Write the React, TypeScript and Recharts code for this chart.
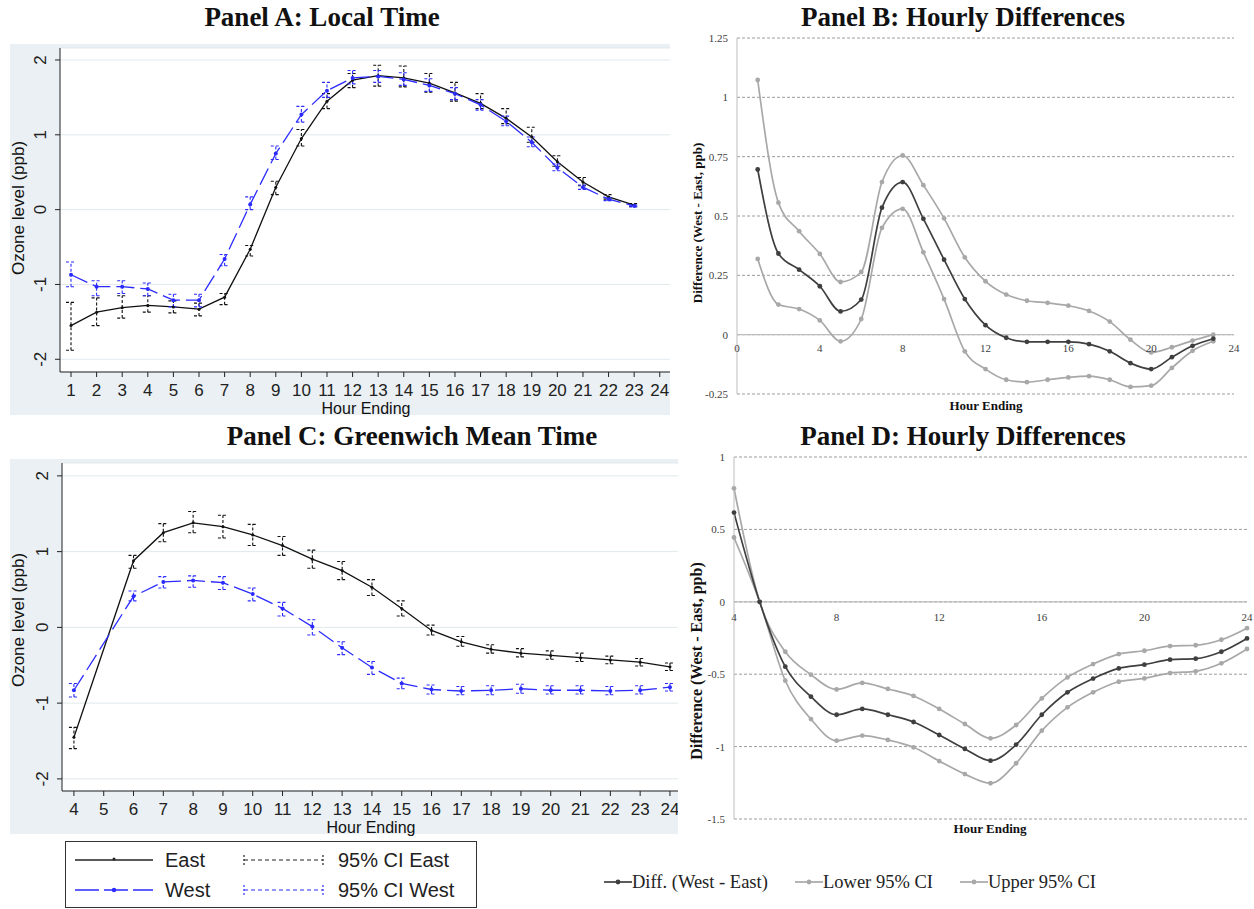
import React from 'react';
import { CartesianGrid, ErrorBar, Line, LineChart, ReferenceLine, XAxis, YAxis } from 'recharts';

const SANS = '"Liberation Sans", Arial, sans-serif';
const SERIF = '"Liberation Serif", "Times New Roman", serif';
const BLUE = '#2b2bff';
const DARK = '#3f3f3f';
const GREY = '#a8a8a8';

// Panel A: ozone by local hour (hour ending 1-23)
const localHours = [1, 2, 3, 4, 5, 6, 7, 8, 9, 10, 11, 12, 13, 14, 15, 16, 17, 18, 19, 20, 21, 22, 23];
const eastLocal = [-1.55, -1.37, -1.31, -1.28, -1.3, -1.33, -1.17, -0.53, 0.3, 0.95, 1.45, 1.73, 1.79, 1.76, 1.69, 1.56, 1.42, 1.22, 0.97, 0.64, 0.37, 0.17, 0.06];
const eastLocalLow = [-1.88, -1.55, -1.45, -1.37, -1.38, -1.42, -1.27, -0.62, 0.2, 0.85, 1.35, 1.63, 1.65, 1.64, 1.57, 1.45, 1.35, 1.15, 0.9, 0.58, 0.32, 0.14, 0.04];
const eastLocalHigh = [-1.24, -1.18, -1.15, -1.15, -1.22, -1.25, -1.12, -0.48, 0.38, 1.07, 1.55, 1.82, 1.93, 1.92, 1.82, 1.7, 1.55, 1.35, 1.1, 0.72, 0.43, 0.2, 0.08];
const westLocal = [-0.87, -1.03, -1.03, -1.06, -1.21, -1.21, -0.66, 0.07, 0.75, 1.27, 1.59, 1.76, 1.78, 1.74, 1.66, 1.55, 1.4, 1.18, 0.9, 0.56, 0.3, 0.14, 0.05];
const westLocalLow = [-1.03, -1.15, -1.12, -1.15, -1.3, -1.3, -0.75, 0.0, 0.67, 1.17, 1.5, 1.68, 1.7, 1.66, 1.58, 1.47, 1.33, 1.12, 0.84, 0.52, 0.27, 0.12, 0.04];
const westLocalHigh = [-0.7, -0.95, -0.95, -0.98, -1.13, -1.13, -0.6, 0.17, 0.85, 1.38, 1.7, 1.86, 1.86, 1.83, 1.75, 1.63, 1.47, 1.25, 0.97, 0.61, 0.33, 0.16, 0.06];

// Panel C: ozone by GMT hour (no estimate for hour 5)
const gmtHours = [4, 6, 7, 8, 9, 10, 11, 12, 13, 14, 15, 16, 17, 18, 19, 20, 21, 22, 23, 24];
const eastGmt = [-1.45, 0.88, 1.25, 1.38, 1.33, 1.22, 1.08, 0.9, 0.75, 0.53, 0.25, -0.04, -0.19, -0.29, -0.34, -0.37, -0.4, -0.43, -0.46, -0.52];
const eastGmtLow = [-1.6, 0.78, 1.13, 1.25, 1.18, 1.08, 0.95, 0.78, 0.63, 0.42, 0.15, -0.1, -0.25, -0.34, -0.39, -0.42, -0.45, -0.48, -0.51, -0.57];
const eastGmtHigh = [-1.32, 0.95, 1.37, 1.53, 1.48, 1.36, 1.2, 1.02, 0.87, 0.63, 0.35, 0.03, -0.12, -0.23, -0.28, -0.31, -0.34, -0.38, -0.41, -0.47];
const westGmt = [-0.83, 0.41, 0.6, 0.62, 0.59, 0.44, 0.25, 0.01, -0.27, -0.53, -0.74, -0.82, -0.84, -0.83, -0.81, -0.83, -0.83, -0.84, -0.83, -0.79];
const westGmtLow = [-0.92, 0.35, 0.52, 0.53, 0.5, 0.35, 0.15, -0.1, -0.36, -0.62, -0.81, -0.88, -0.89, -0.89, -0.87, -0.88, -0.88, -0.89, -0.88, -0.84];
const westGmtHigh = [-0.74, 0.48, 0.67, 0.68, 0.67, 0.52, 0.33, 0.1, -0.19, -0.45, -0.67, -0.76, -0.78, -0.77, -0.75, -0.77, -0.77, -0.78, -0.77, -0.74];

// Panel B: West - East difference, local hours
const diffLocal = [0.696, 0.342, 0.274, 0.204, 0.098, 0.148, 0.535, 0.643, 0.488, 0.316, 0.15, 0.04, -0.013, -0.03, -0.03, -0.03, -0.04, -0.07, -0.12, -0.145, -0.095, -0.047, -0.017];
const lowerLocal = [0.319, 0.127, 0.108, 0.06, -0.028, 0.066, 0.45, 0.53, 0.347, 0.15, -0.07, -0.145, -0.19, -0.2, -0.19, -0.18, -0.175, -0.19, -0.22, -0.215, -0.14, -0.068, -0.028];
const upperLocal = [1.073, 0.556, 0.436, 0.34, 0.222, 0.264, 0.643, 0.755, 0.63, 0.49, 0.326, 0.225, 0.169, 0.143, 0.134, 0.122, 0.1, 0.055, -0.021, -0.075, -0.053, -0.025, 0.0];

// Panel D: West - East difference, GMT hours 4-24
const diffHours = [4, 5, 6, 7, 8, 9, 10, 11, 12, 13, 14, 15, 16, 17, 18, 19, 20, 21, 22, 23, 24];
const diffGmt = [0.616, 0, -0.448, -0.655, -0.78, -0.74, -0.78, -0.83, -0.92, -1.016, -1.097, -0.986, -0.78, -0.625, -0.53, -0.46, -0.434, -0.4, -0.393, -0.345, -0.253];
const lowerGmt = [0.444, 0, -0.545, -0.81, -0.959, -0.924, -0.954, -1.005, -1.1, -1.19, -1.253, -1.115, -0.89, -0.729, -0.625, -0.552, -0.529, -0.492, -0.48, -0.425, -0.326];
const upperGmt = [0.784, 0, -0.345, -0.503, -0.605, -0.56, -0.602, -0.65, -0.74, -0.844, -0.943, -0.851, -0.667, -0.522, -0.43, -0.361, -0.338, -0.306, -0.3, -0.262, -0.182];

const ozoneTicks = [-2, -1, 0, 1, 2];
const localTicks = [1, 2, 3, 4, 5, 6, 7, 8, 9, 10, 11, 12, 13, 14, 15, 16, 17, 18, 19, 20, 21, 22, 23, 24];
const gmtTicks = [4, 5, 6, 7, 8, 9, 10, 11, 12, 13, 14, 15, 16, 17, 18, 19, 20, 21, 22, 23, 24];
const diffLocalYTicks = [-0.25, 0, 0.25, 0.5, 0.75, 1, 1.25];
const diffLocalXTicks = [0, 4, 8, 12, 16, 20, 24];
const diffGmtYTicks = [-1.5, -1, -0.5, 0, 0.5, 1];
const diffGmtXTicks = [4, 8, 12, 16, 20, 24];

function buildCiRows(
  hours: number[],
  east: number[], eastLow: number[], eastHigh: number[],
  west: number[], westLow: number[], westHigh: number[],
) {
  return hours.map((hour, i) => ({
    hour,
    east: east[i],
    eastErr: [east[i] - eastLow[i], eastHigh[i] - east[i]],
    west: west[i],
    westErr: [west[i] - westLow[i], westHigh[i] - west[i]],
  }));
}

function buildDiffRows(hours: number[], diff: number[], lower: number[], upper: number[]) {
  return hours.map((hour, i) => ({ hour, diff: diff[i], lower: lower[i], upper: upper[i] }));
}

const localRows = buildCiRows(localHours, eastLocal, eastLocalLow, eastLocalHigh, westLocal, westLocalLow, westLocalHigh);
const gmtRows = buildCiRows(gmtHours, eastGmt, eastGmtLow, eastGmtHigh, westGmt, westGmtLow, westGmtHigh);
const diffLocalRows = buildDiffRows(localHours, diffLocal, lowerLocal, upperLocal);
const diffGmtRows = buildDiffRows(diffHours, diffGmt, lowerGmt, upperGmt);

const StataXTick = (props: any) => (
  <text x={props.x} y={props.y + 19} textAnchor="middle" fontFamily={SANS} fontSize={17} fill="#222">
    {props.payload.value}
  </text>
);

const StataYTick = (props: any) => {
  const bx = props.x - 9;
  return (
    <text x={bx} y={props.y} transform={`rotate(-90 ${bx} ${props.y})`} textAnchor="middle" fontFamily={SANS} fontSize={17} fill="#222">
      {props.payload.value}
    </text>
  );
};

interface StataPanelProps {
  data: ReturnType<typeof buildCiRows>;
  left: number;
  top: number;
  width: number;
  height: number;
  yAxisWidth: number;
  xDomain: [number, number];
  xTicks: number[];
  yDomain: [number, number];
}

function StataPanel({ data, left, top, width, height, yAxisWidth, xDomain, xTicks, yDomain }: StataPanelProps) {
  return (
    <div style={{ position: 'absolute', left, top, width, height, background: '#eaf0f3' }}>
      <LineChart width={width} height={height} data={data} margin={{ top: 4, right: 0, bottom: 0, left: 0 }}>
        <CartesianGrid vertical={false} stroke="#e1e9ed" fill="#ffffff" />
        <XAxis
          type="number"
          dataKey="hour"
          domain={xDomain}
          ticks={xTicks}
          interval={0}
          allowDataOverflow
          height={43}
          tickSize={5}
          tickMargin={0}
          stroke="#222"
          tick={StataXTick}
        />
        <YAxis
          type="number"
          domain={yDomain}
          ticks={ozoneTicks}
          interval={0}
          allowDataOverflow
          width={yAxisWidth}
          tickSize={5}
          tickMargin={0}
          stroke="#222"
          tick={StataYTick}
        />
        <Line
          dataKey="east"
          type="linear"
          stroke="#111"
          strokeWidth={1.3}
          dot={{ r: 1.5, fill: '#111', stroke: 'none' }}
          activeDot={false}
          isAnimationActive={false}
        >
          <ErrorBar dataKey="eastErr" width={5} stroke="#111" strokeWidth={1.1} strokeDasharray="3 2" />
        </Line>
        <Line
          dataKey="west"
          type="linear"
          stroke={BLUE}
          strokeWidth={1.3}
          strokeDasharray="18 6"
          dot={{ r: 2, fill: BLUE, stroke: 'none' }}
          activeDot={false}
          isAnimationActive={false}
        >
          <ErrorBar dataKey="westErr" width={5} stroke={BLUE} strokeWidth={1.1} strokeDasharray="3 2" />
        </Line>
      </LineChart>
    </div>
  );
}

interface DiffPanelProps {
  data: ReturnType<typeof buildDiffRows>;
  left: number;
  top: number;
  height: number;
  yAxisWidth: number;
  rightMargin: number;
  xDomain: [number, number];
  xTicks: number[];
  yDomain: [number, number];
  yTicks: number[];
  labelGap: number;
}

function DiffPanel({ data, left, top, height, yAxisWidth, rightMargin, xDomain, xTicks, yDomain, yTicks, labelGap }: DiffPanelProps) {
  const marginTop = 8;
  const xAxisHeight = 30;
  const plotHeight = height - marginTop - xAxisHeight;
  // hour labels sit just under the zero line, not at the bottom of the plot
  const zeroOffset = (plotHeight * (0 - yDomain[0])) / (yDomain[1] - yDomain[0]);
  const ZeroTick = (p: any) => (
    <text x={p.x} y={p.y - zeroOffset + labelGap} textAnchor="middle" fontFamily={SERIF} fontSize={11} fill="#404040">
      {p.payload.value}
    </text>
  );
  return (
    <div style={{ position: 'absolute', left, top }}>
      <LineChart width={574} height={height} data={data} margin={{ top: marginTop, right: rightMargin, bottom: 0, left: 0 }}>
        <CartesianGrid vertical={false} stroke="#9c9c9c" strokeDasharray="3 2" />
        <XAxis
          type="number"
          dataKey="hour"
          domain={xDomain}
          ticks={xTicks}
          interval={0}
          axisLine={false}
          tickLine={false}
          tickSize={0}
          tickMargin={0}
          height={xAxisHeight}
          tick={ZeroTick}
        />
        <YAxis
          type="number"
          domain={yDomain}
          ticks={yTicks}
          interval={0}
          width={yAxisWidth}
          axisLine={{ stroke: '#bdbdbd' }}
          tickLine={false}
          tickSize={0}
          tickMargin={9}
          tick={{ fontFamily: SERIF, fontSize: 11, fill: '#404040' }}
        />
        <ReferenceLine y={0} stroke="#bdbdbd" strokeWidth={1.2} />
        <Line dataKey="lower" type="monotone" stroke={GREY} strokeWidth={1.7} dot={{ r: 2.4, fill: GREY, stroke: 'none' }} activeDot={false} isAnimationActive={false} />
        <Line dataKey="upper" type="monotone" stroke={GREY} strokeWidth={1.7} dot={{ r: 2.4, fill: GREY, stroke: 'none' }} activeDot={false} isAnimationActive={false} />
        <Line dataKey="diff" type="monotone" stroke={DARK} strokeWidth={1.7} dot={{ r: 2.4, fill: DARK, stroke: 'none' }} activeDot={false} isAnimationActive={false} />
      </LineChart>
    </div>
  );
}

function Label({ x, y, text, font, size, bold, rotate }: { x: number; y: number; text: string; font: string; size: number; bold?: boolean; rotate?: boolean }) {
  return (
    <div
      style={{
        position: 'absolute',
        left: x,
        top: y,
        transform: `translate(-50%, -50%)${rotate ? ' rotate(-90deg)' : ''}`,
        whiteSpace: 'nowrap',
        fontFamily: font,
        fontSize: size,
        fontWeight: bold ? 700 : 400,
        color: '#111',
        lineHeight: 1,
      }}
    >
      {text}
    </div>
  );
}

function StataLegend() {
  const row1 = 18;
  const row2 = 48;
  const text = (left: number, top: number, s: string) => (
    <div style={{ position: 'absolute', left, top: top - 12, height: 24, lineHeight: '24px', fontFamily: SANS, fontSize: 20, color: '#222', whiteSpace: 'nowrap' }}>
      {s}
    </div>
  );
  const ciSample = (y: number, color: string) => (
    <g stroke={color} strokeWidth={1.2}>
      <line x1={178} y1={y} x2={257} y2={y} strokeDasharray="4 3" />
      <line x1={178} y1={y - 5} x2={178} y2={y + 5} strokeDasharray="2 2" />
      <line x1={257} y1={y - 5} x2={257} y2={y + 5} strokeDasharray="2 2" />
    </g>
  );
  return (
    <div style={{ position: 'absolute', left: 65, top: 841, width: 412, height: 67, border: '1px solid #333', boxSizing: 'border-box', background: '#fff' }}>
      <svg width={410} height={65} style={{ position: 'absolute', left: 0, top: 0 }}>
        <line x1={9} y1={row1} x2={87} y2={row1} stroke="#222" strokeWidth={1.4} />
        <circle cx={48} cy={row1 - 1} r={1.5} fill="#222" />
        <line x1={9} y1={row2} x2={87} y2={row2} stroke={BLUE} strokeWidth={1.4} strokeDasharray="24 5" />
        <circle cx={48} cy={row2} r={2.2} fill={BLUE} />
        {ciSample(row1, '#222')}
        {ciSample(row2, BLUE)}
      </svg>
      {text(99, row1, 'East')}
      {text(99, row2, 'West')}
      {text(272, row1, '95% CI East')}
      {text(272, row2, '95% CI West')}
    </div>
  );
}

function DiffLegend() {
  const items = [
    { x: 604, color: DARK, label: 'Diff. (West - East)' },
    { x: 795, color: GREY, label: 'Lower 95% CI' },
    { x: 960, color: GREY, label: 'Upper 95% CI' },
  ];
  return (
    <>
      {items.map((it) => (
        <div key={it.label} style={{ position: 'absolute', left: it.x, top: 870, height: 24, display: 'flex', alignItems: 'center' }}>
          <svg width={28} height={24}>
            <line x1={0} y1={12} x2={28} y2={12} stroke={it.color} strokeWidth={1.7} />
            <circle cx={14} cy={12} r={2.4} fill={it.color} />
          </svg>
          <span style={{ fontFamily: SERIF, fontSize: 18.5, color: '#222', whiteSpace: 'nowrap' }}>{it.label}</span>
        </div>
      ))}
    </>
  );
}

export default function App() {
  return (
    <div style={{ position: 'absolute', left: 0, top: 0, width: 1254, height: 909, background: '#fff', overflow: 'hidden' }}>
      <Label x={322} y={17} text="Panel A: Local Time" font={SERIF} size={27} bold />
      <Label x={963} y={17} text="Panel B: Hourly Differences" font={SERIF} size={27} bold />
      <Label x={412} y={436} text="Panel C: Greenwich Mean Time" font={SERIF} size={27} bold />
      <Label x={963} y={436} text="Panel D: Hourly Differences" font={SERIF} size={27} bold />

      <StataPanel data={localRows} left={10} top={44} width={660} height={371} yAxisWidth={50} xDomain={[0.57, 24.4]} xTicks={localTicks} yDomain={[-2.17, 2.16]} />
      <Label x={18} y={208} text="Ozone level (ppb)" font={SANS} size={17} rotate />
      <Label x={366} y={409} text="Hour Ending" font={SANS} size={16} />

      <StataPanel data={gmtRows} left={10} top={459} width={668} height={375} yAxisWidth={52} xDomain={[3.6, 24.27]} xTicks={gmtTicks} yDomain={[-2.16, 2.17]} />
      <Label x={18} y={620} text="Ozone level (ppb)" font={SANS} size={17} rotate />
      <Label x={371} y={828} text="Hour Ending" font={SANS} size={16} />
      <StataLegend />

      <DiffPanel data={diffLocalRows} left={680} top={30} height={394} yAxisWidth={57} rightMargin={20} xDomain={[0, 24]} xTicks={diffLocalXTicks} yDomain={[-0.25, 1.25]} yTicks={diffLocalYTicks} labelGap={17} />
      <Label x={697} y={223} text="Difference (West - East, ppb)" font={SERIF} size={13} bold rotate />
      <Label x={986} y={405} text="Hour Ending" font={SERIF} size={13} bold />

      <DiffPanel data={diffGmtRows} left={680} top={449} height={400} yAxisWidth={54} rightMargin={7} xDomain={[4, 24]} xTicks={diffGmtXTicks} yDomain={[-1.5, 1]} yTicks={diffGmtYTicks} labelGap={19} />
      <Label x={697} y={661} text="Difference (West - East, ppb)" font={SERIF} size={16} bold rotate />
      <Label x={990} y={828} text="Hour Ending" font={SERIF} size={13} bold />
      <DiffLegend />
    </div>
  );
}
